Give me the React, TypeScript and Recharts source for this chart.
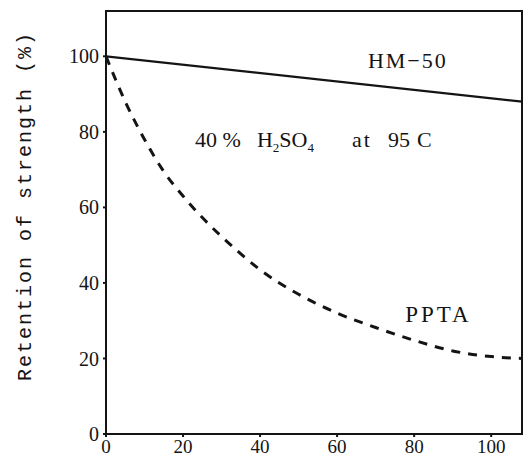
import { Line, LineChart, ReferenceArea, ReferenceDot, XAxis, YAxis } from 'recharts';

// values (time on x, % retention on y)
const hmX = [0, 108];
const hmY = [100, 88];
const pptaX = [0, 5, 10, 15, 20, 25, 30, 35, 40, 50, 60, 70, 80, 90, 100, 108];
const pptaY = [100, 88, 78, 69.5, 63, 57.3, 52.3, 47.7, 43.5, 37, 32, 28.2, 24.8, 22, 20.5, 20];
const xTicks = [0, 20, 40, 60, 80, 100];
const yTicks = [0, 20, 40, 60, 80, 100];

const hmData = hmX.map((x, i) => ({ x, y: hmY[i] }));
const pptaData = pptaX.map((x, i) => ({ x, y: pptaY[i] }));

const INK = '#141414';
const SERIF = '"Liberation Serif", "DejaVu Serif", serif';
const MONO = '"Liberation Mono", "DejaVu Sans Mono", monospace';
const TICK = { fill: INK, fontSize: 20, fontFamily: SERIF };

/** Plain text annotation anchored at a data point (left edge, baseline). */
function note(text: string, fontSize: number, spacing: number) {
  return ({ viewBox }: any) => (
    <text x={viewBox.x} y={viewBox.y} fill={INK} fontSize={fontSize} fontFamily={SERIF} letterSpacing={spacing}>
      {text}
    </text>
  );
}

// the acid condition label, spread out like the typeset original
function AcidNote({ viewBox }: any) {
  const { x, y } = viewBox;
  return (
    <text y={y} fill={INK} fontSize={22} fontFamily={SERIF}>
      <tspan x={x}>40 %</tspan>
      <tspan x={x + 62}>H</tspan>
      <tspan fontSize={13} dy={5}>2</tspan>
      <tspan dy={-5}>SO</tspan>
      <tspan fontSize={13} dy={5}>4</tspan>
      <tspan x={x + 157} dy={-5} letterSpacing={2}>at</tspan>
      <tspan x={x + 193}>95</tspan>
      <tspan x={x + 222}>C</tspan>
    </text>
  );
}

function YTitle() {
  return (
    <text
      x={31}
      y={206}
      transform="rotate(-90 31 206)"
      textAnchor="middle"
      fill={INK}
      fontSize={20}
      fontFamily={MONO}
      letterSpacing={2}
    >
      Retention of strength (%)
    </text>
  );
}

export default function App() {
  return (
    <div style={{ position: 'absolute', left: 0, top: 0, width: 525, height: 460, background: '#fff' }}>
      <LineChart width={525} height={460} margin={{ top: 11, right: 3, bottom: 0, left: 0 }}>
        <XAxis
          type="number"
          dataKey="x"
          domain={[0, 108]}
          ticks={xTicks}
          allowDataOverflow
          height={26}
          stroke={INK}
          strokeWidth={2}
          tickSize={3}
          tickMargin={3}
          tick={{ ...TICK, fontSize: 19 }}
        />
        <YAxis
          type="number"
          dataKey="y"
          domain={[0, 112]}
          ticks={yTicks}
          allowDataOverflow
          width={106}
          stroke={INK}
          strokeWidth={2}
          tickSize={3}
          tickMargin={4}
          tick={TICK}
          label={{ content: () => <YTitle /> }}
        />
        <ReferenceArea x1={0} x2={108} y1={0} y2={112} fill="none" stroke={INK} strokeWidth={2} />
        <Line
          data={hmData}
          dataKey="y"
          type="linear"
          stroke={INK}
          strokeWidth={2.2}
          dot={false}
          isAnimationActive={false}
        />
        <Line
          data={pptaData}
          dataKey="y"
          type="monotone"
          stroke={INK}
          strokeWidth={3}
          strokeDasharray="9 8"
          dot={false}
          isAnimationActive={false}
        />
        <ReferenceDot x={68} y={96.8} r={0} stroke="none" label={{ content: note('HM−50', 22, 2) }} />
        <ReferenceDot x={23.1} y={76.1} r={0} stroke="none" label={{ content: AcidNote }} />
        <ReferenceDot x={77.7} y={29.7} r={0} stroke="none" label={{ content: note('PPTA', 23, 3) }} />
      </LineChart>
    </div>
  );
}
